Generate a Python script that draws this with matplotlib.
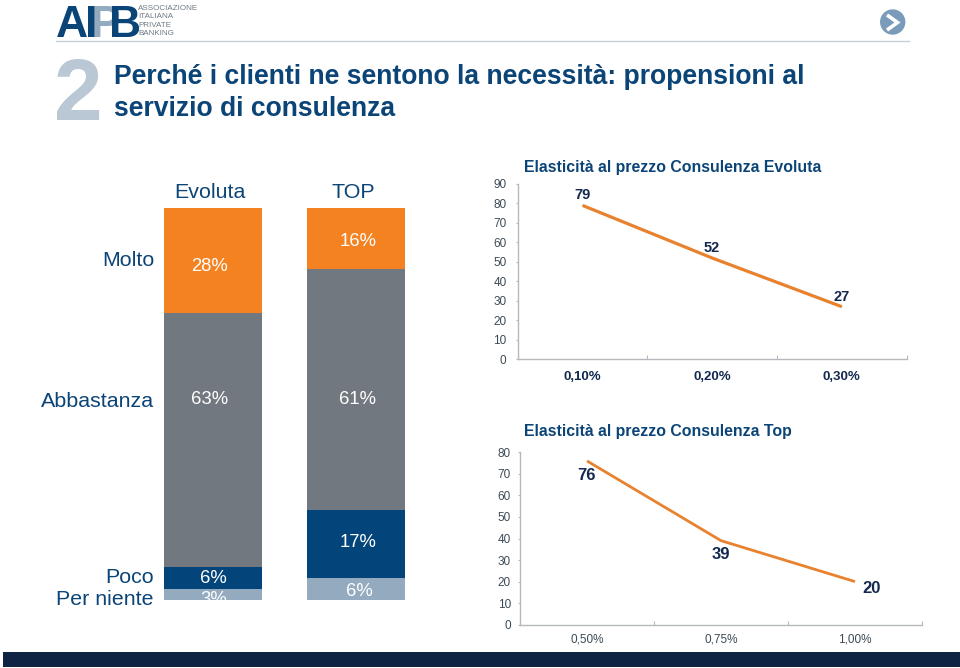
import matplotlib
matplotlib.use("Agg")
import matplotlib.pyplot as plt
from matplotlib.patches import Rectangle, Circle

plt.rcParams['font.family'] = ['Liberation Sans', 'DejaVu Sans']

W, H = 960, 668

# ---- data ----
groups = ["Evoluta", "TOP"]
levels = ["Molto", "Abbastanza", "Poco", "Per niente"]
molto = [26.8, 15.6]
abbastanza = [64.8, 61.5]
poco = [5.6, 17.3]
per_niente = [2.8, 5.6]
labels_evoluta = ["28%", "63%", "6%", "3%"]
labels_top = ["16%", "61%", "17%", "6%"]

price_evoluta = ["0,10%", "0,20%", "0,30%"]
elasticity_evoluta = [79, 52, 27]
price_top = ["0,50%", "0,75%", "1,00%"]
elasticity_top = [76, 39, 20]

# ---- style ----
NAVY = "#0B4477"
DARK = "#0F2343"
ORANGE = "#F58220"
GREY = "#72787F"
BLUE = "#03457B"
PALE = "#93AABF"
LINE = "#E8822E"
INK = "#13294F"

fig = plt.figure(figsize=(W / 100, H / 100), dpi=100, facecolor="white")


def axpx(x0, y0, x1, y1, **kw):
    """Axes from pixel box (top-left origin)."""
    return fig.add_axes([x0 / W, 1 - y1 / H, (x1 - x0) / W, (y1 - y0) / H], **kw)


def T(x, y, s, **kw):
    kw.setdefault("va", "center")
    if kw["va"] == "center":
        y = y + kw.get("fontsize", 10) * 0.12
    return bg.text(x, y, s, **kw)


# overlay pixel canvas: sits above the chart axes so its text is visible
bg = axpx(0, 0, W, H)
bg.set_xlim(0, W)
bg.set_ylim(H, 0)
bg.axis("off")
bg.set_zorder(10)

# footer and rule
bg.add_patch(Rectangle((3, 652), W - 3, 15, color=DARK, lw=0))
bg.plot([56, 909], [41, 41], color="#C3D0DA", lw=1)

# logo (P first so that B sits over it)
T(91, 37, "P", color=PALE, fontsize=32, fontweight="bold", ha="left", va="baseline")
T(56, 37, "A", color=NAVY, fontsize=32, fontweight="bold", ha="left", va="baseline")
T(84.5, 37, "I", color=NAVY, fontsize=32, fontweight="bold", ha="left", va="baseline")
T(109, 37, "B", color=NAVY, fontsize=32, fontweight="bold", ha="left", va="baseline")
for yy, s in zip([8, 16.3, 24.5, 33], ["ASSOCIAZIONE", "ITALIANA", "PRIVATE", "BANKING"]):
    T(138, yy, s, color="#6E7A85", fontsize=5.8, ha="left")

# arrow icon
bg.add_patch(Circle((892.7, 22), 12.7, color="#7A9CBA", lw=0))
bg.plot([888.5, 897.5, 888.5], [16, 22.5, 29], color="white", lw=2.6, solid_joinstyle="miter")

# heading
T(54, 120, "2", color="#B9C8D4", fontsize=63, fontweight="bold", ha="left", va="baseline")
T(114, 75, "Perché i clienti ne sentono la necessità: propensioni al",
  color=NAVY, fontsize=19.1, fontweight="bold", ha="left")
T(114, 107, "servizio di consulenza", color=NAVY, fontsize=19.1, fontweight="bold", ha="left")

# ---- stacked bars ----
ax = axpx(164, 208, 405, 600)
ax.set_xlim(-49 / 143, 1 + 49 / 143)
ax.set_ylim(0, 100)
ax.axis("off")
bottom = [0, 0]
for vals, col in [(per_niente, PALE), (poco, BLUE), (abbastanza, GREY), (molto, ORANGE)]:
    ax.bar([0, 1], vals, width=98 / 143, bottom=bottom, color=col, lw=0)
    bottom = [b + v for b, v in zip(bottom, vals)]

T(210, 191, groups[0], color=NAVY, fontsize=15.4, ha="center")
T(353, 191, groups[1], color=NAVY, fontsize=15.4, ha="center")

for yy, s in zip([259, 400, 576, 598], levels):
    T(154, yy, s, color=NAVY, fontsize=15.4, ha="right")

for (xx, yy), s in zip([(210, 265), (210, 398), (213, 577), (214, 598)], labels_evoluta):
    t = T(xx, yy, s, color="white", fontsize=13.3, ha="center")
    t.set_clip_path(Rectangle((164, 208), 241, 392, transform=bg.transData))
    t.set_clip_on(True)
for (xx, yy), s in zip([(358, 240), (358, 398), (358, 541), (359, 590)], labels_top):
    T(xx, yy, s, color="white", fontsize=13.3, ha="center")


def line_chart(box, ymax, cats, vals, lw, title, title_xy, tick_fs, tick_pad, label_pos, label_fs, cat_fs, cat_w, cat_y):
    a = axpx(*box)
    a.set_xlim(-0.5, 2.5)
    a.set_ylim(0, ymax)
    a.plot(range(3), vals, color=LINE, lw=lw, solid_capstyle="butt")
    for s in ("top", "right"):
        a.spines[s].set_visible(False)
    for s in ("left", "bottom"):
        a.spines[s].set_color("#B5B8BC")
        a.spines[s].set_linewidth(1)
    a.set_yticks(range(0, ymax + 1, 10))
    a.set_xticks([-0.5, 0.5, 1.5, 2.5])
    a.set_xticklabels([])
    a.tick_params(axis="y", length=1.5, width=0.8, color="#B5B8BC", labelcolor="#3C4A55",
                  labelsize=tick_fs, pad=tick_pad, direction="out")
    a.tick_params(axis="x", length=3, width=0.8, color="#B5B8BC", direction="in")
    a.patch.set_alpha(0)
    T(title_xy[0], title_xy[1], title, color=NAVY, fontsize=11.4, fontweight="bold", ha="left")
    x0, x1 = box[0], box[2]
    for i, c in enumerate(cats):
        T(x0 + (x1 - x0) * (i + 0.5) / 3, cat_y, c, color=INK if cat_w == "bold" else "#3C4A55",
          fontsize=cat_fs, fontweight=cat_w, ha="center")
    for (xx, yy), v in zip(label_pos, vals):
        T(xx, yy, str(v), color=INK, fontsize=label_fs, fontweight="bold", ha="center")


line_chart((517.7, 184, 906.7, 359.3), 90, price_evoluta, elasticity_evoluta, 2.3,
           "Elasticità al prezzo Consulenza Evoluta", (524, 166), 8.5, 6.5,
           [(582.5, 194), (712, 247), (842, 296)], 10.5, 9.5, "bold", 376)
line_chart((520, 452.3, 922, 624.7), 80, price_top, elasticity_top, 2.0,
           "Elasticità al prezzo Consulenza Top", (524, 430), 8.5, 5,
           [(587, 474), (721, 553), (872, 587)], 12, 8.5, "normal", 638)

fig.savefig("out.png", dpi=100, facecolor="white")
